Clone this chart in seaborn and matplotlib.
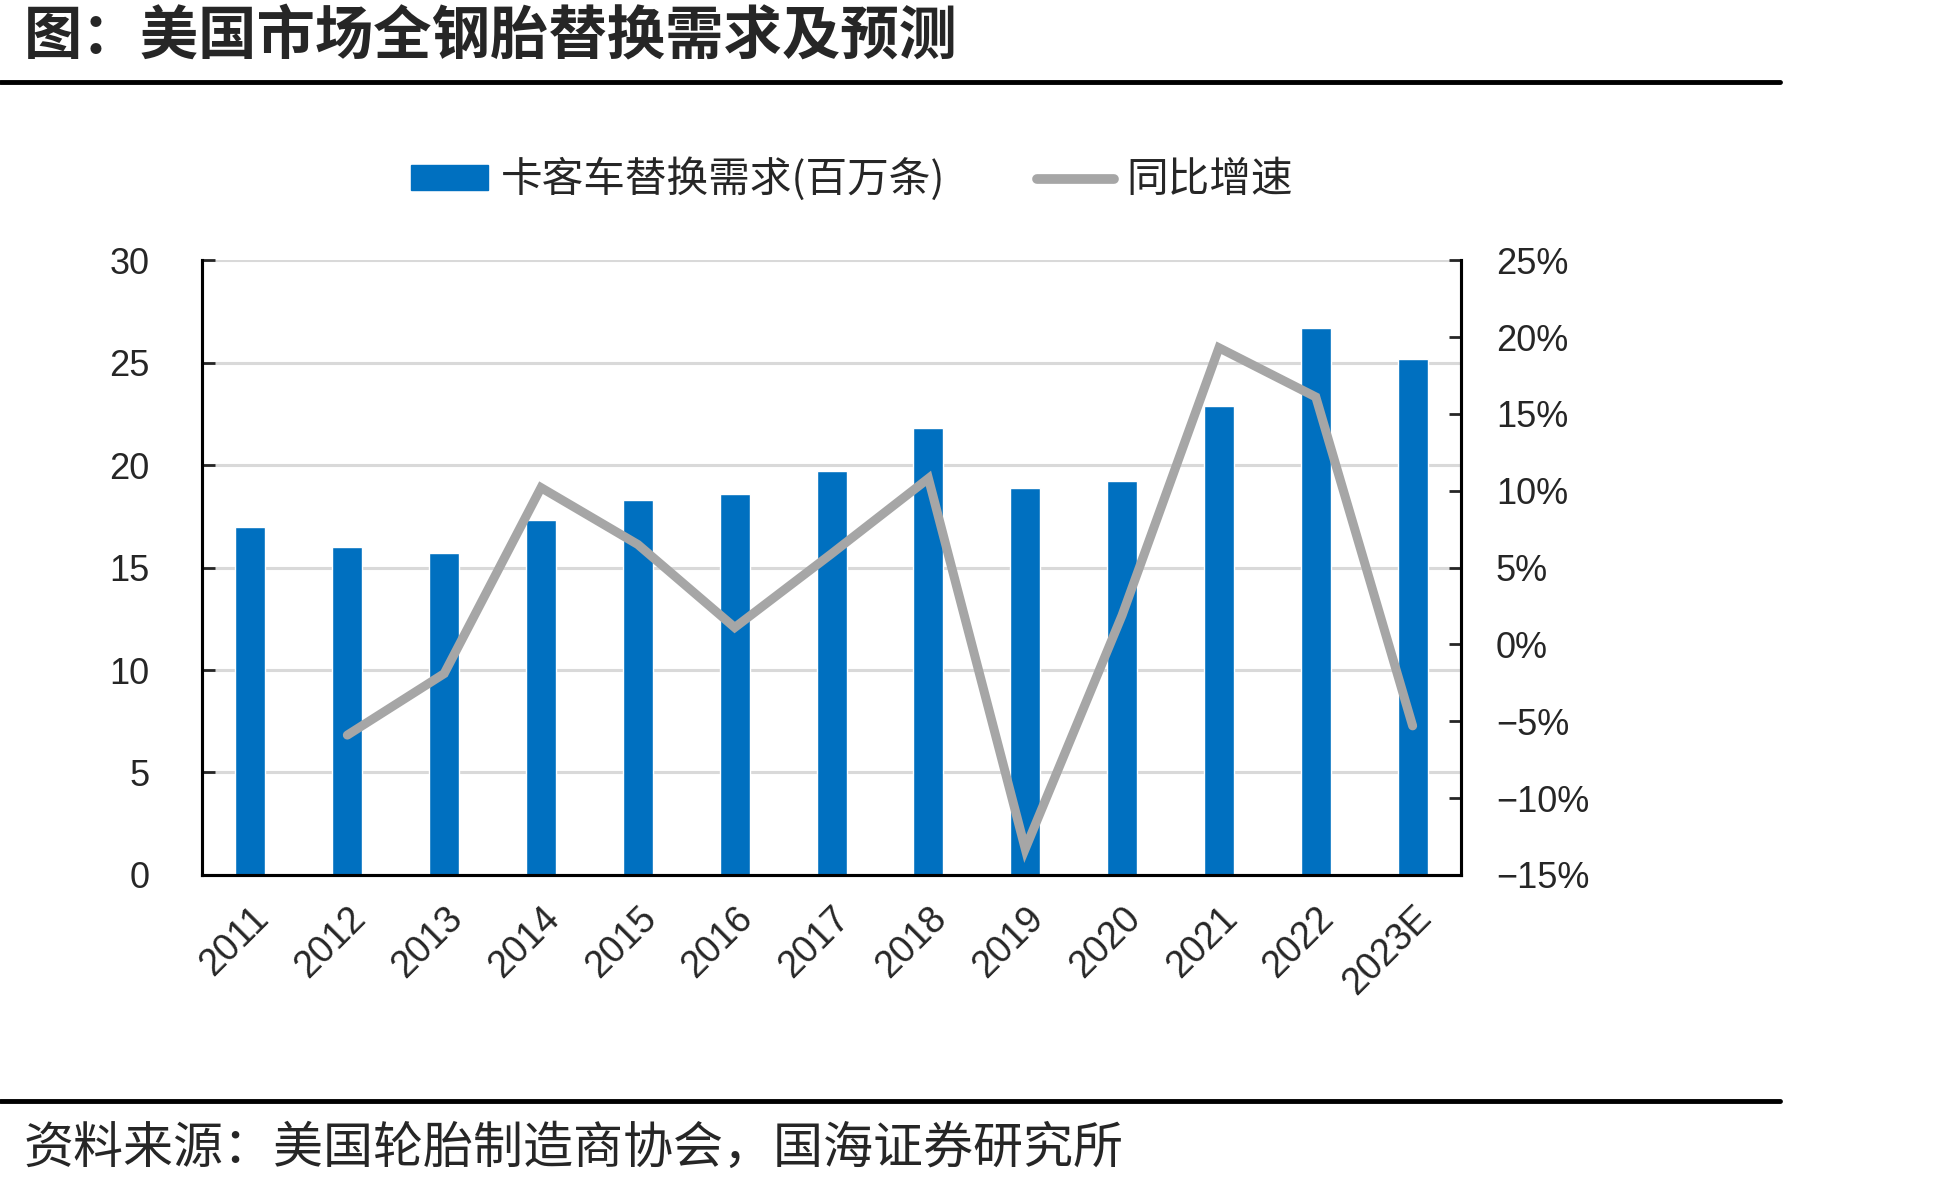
import numpy as np
import pandas as pd
import matplotlib
matplotlib.use('Agg')
import matplotlib.pyplot as plt
import seaborn as sns
from matplotlib.lines import Line2D
from matplotlib.patches import Patch

years = ['2011', '2012', '2013', '2014', '2015', '2016', '2017',
         '2018', '2019', '2020', '2021', '2022', '2023E']
demand = [17.0, 16.0, 15.7, 17.3, 18.3, 18.6, 19.7, 21.8, 18.9, 19.2, 22.9, 26.7, 25.2]
growth = [np.nan, -5.9, -1.9, 10.2, 6.5, 1.1, 5.9, 10.8, -13.3, 1.9, 19.3, 16.1, -5.3]

title = '图：美国市场全钢胎替换需求及预测'
bar_label = '卡客车替换需求(百万条)'
line_label = '同比增速'
source = '资料来源：美国轮胎制造商协会，国海证券研究所'

df = pd.DataFrame({'year': years, 'demand': demand, 'growth': growth,
                   'pos': np.arange(len(years))})

sns.set_style('white')
plt.rcParams['font.family'] = ['Liberation Sans', 'Noto Sans CJK SC', 'DejaVu Sans']
cjk = ['Noto Sans CJK SC', 'DejaVu Sans']

blue = '#0070C0'
gray = '#A6A6A6'

fig = plt.figure(figsize=(19.58, 11.88), dpi=100)
ax = fig.add_axes([0.1032, 0.2635, 0.6430, 0.5175])

sns.barplot(data=df, x='year', y='demand', color=blue, width=0.31,
            saturation=1, ax=ax, zorder=2)
ax.set_xlim(-0.5, len(years) - 0.5)
ax.set_ylim(0, 30)
ax.set_yticks(range(0, 31, 5))
ax.set_axisbelow(True)
ax.yaxis.grid(True, color='#D9D9D9', linewidth=2.2)
ax.set_xlabel('')
ax.set_ylabel('')

ax2 = ax.twinx()
sns.lineplot(data=df, x='pos', y='growth', color=gray, linewidth=6.5, ax=ax2,
             solid_joinstyle='miter')
ax2.set_ylim(-15, 25)
ax2.set_yticks(range(-15, 26, 5))
ax2.set_yticklabels([f'{v}%'.replace('-', '−') for v in range(-15, 26, 5)])
ax2.set_ylabel('')
ax2.set_xlim(-0.5, len(years) - 0.5)

for a in (ax, ax2):
    a.spines['top'].set_visible(False)
    for s in ('left', 'right', 'bottom'):
        a.spines[s].set_linewidth(2.2)
        a.spines[s].set_color('black')

ax.set_xticks(np.arange(len(years)))
ax.set_xticklabels(years, rotation=45, ha='right', rotation_mode='anchor')
ax.set_xticks(np.arange(len(years) - 1) + 0.5, minor=True)
ax.tick_params(axis='x', which='major', length=0, labelsize=27, pad=18)
ax.tick_params(axis='x', which='minor', direction='in', length=11, width=2)
ax.tick_params(axis='y', direction='in', length=9, width=2, labelsize=26, pad=38)
ax2.tick_params(axis='y', direction='in', length=9, width=2, labelsize=26, pad=25)
for lab in ax.get_yticklabels():
    lab.set_horizontalalignment('right')

# title, rules and source
fig.text(0.012, 0.969, title, fontsize=42, fontweight='bold', family=cjk,
         va='center', ha='left')
fig.add_artist(Line2D([0, 0.909], [0.931, 0.931], color='black', linewidth=3.5))
fig.add_artist(Line2D([0, 0.909], [0.0735, 0.0735], color='black', linewidth=3.5))
fig.text(0.012, 0.033, source, fontsize=36, family=cjk, va='center', ha='left')

handles = [Patch(facecolor=blue, edgecolor=blue),
           Line2D([0], [0], color=gray, linewidth=7)]
leg = fig.legend(handles, [bar_label, line_label], loc='center',
                 bbox_to_anchor=(0.435, 0.849), ncol=2, frameon=False,
                 prop={'family': cjk, 'size': 30}, handlelength=1.85,
                 handleheight=0.55, handletextpad=0.3, columnspacing=2.2)

fig.savefig('out.png', dpi=100)
